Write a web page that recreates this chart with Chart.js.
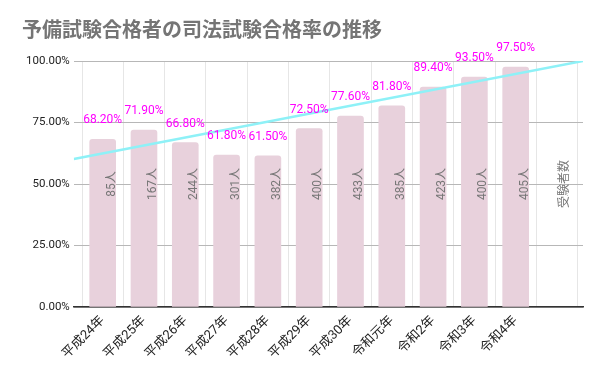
<!DOCTYPE html>
<html>
<head>
<meta charset="utf-8">
<script src="https://cdn.jsdelivr.net/npm/chart.js@4"></script>
<style>
  html, body { margin: 0; padding: 0; background: #fff; }
  #wrap { width: 600px; height: 371px; }
</style>
</head>
<body>
<div id="wrap"><canvas id="myChart"></canvas></div>
<script>
// data
let years = ["平成24年", "平成25年", "平成26年", "平成27年", "平成28年", "平成29年",
             "平成30年", "令和元年", "令和2年", "令和3年", "令和4年", ""];
let passRates = [68.2, 71.9, 66.8, 61.8, 61.5, 72.5, 77.6, 81.8, 89.4, 93.5, 97.5];
let examinees = [85, 167, 244, 301, 382, 400, 433, 385, 423, 400, 405];
let examineeName = "受験者数";
let trendEnds = [60.2, 100.0];   // trendline at the left and right edge of the plot
let yTicks = [0, 25, 50, 75, 100];

let xMin = -0.7, xMax = 11.63;
let font = "Roboto, 'Noto Sans CJK JP', sans-serif";

// labels drawn on the bars
const barLabels = {
  id: "barLabels",
  afterDatasetsDraw(chart) {
    const ctx = chart.ctx;
    const meta = chart.getDatasetMeta(1);
    const y = chart.scales.y, x = chart.scales.x;
    ctx.save();
    ctx.font = "12px " + font;
    // rates above bars
    ctx.fillStyle = "#ff00ff";
    ctx.textAlign = "center";
    ctx.textBaseline = "middle";
    meta.data.forEach((bar, i) => {
      ctx.fillText(passRates[i].toFixed(2) + "%", bar.x, bar.y - 19);
    });
    // examinees, rotated
    ctx.fillStyle = "#777";
    const mid = y.getPixelForValue(50);
    const put = (txt, px) => {
      ctx.save();
      ctx.translate(px, mid);
      ctx.rotate(-Math.PI / 2);
      ctx.fillText(txt, 0, 0);
      ctx.restore();
    };
    meta.data.forEach((bar, i) => put(examinees[i] + "人", bar.x + 9));
    put(examineeName, x.getPixelForValue(years.length - 1) + 8);
    ctx.restore();
  }
};

new Chart("myChart", {
  type: "bar",
  data: {
    datasets: [{
      type: "line",
      data: [{x: xMin, y: trendEnds[0]}, {x: xMax, y: trendEnds[1]}],
      borderColor: "#8ef1f7",
      borderWidth: 2.5,
      pointRadius: 0,
      order: 0
    }, {
      data: passRates.map((v, i) => ({x: i, y: v})),
      backgroundColor: "#e8d1dc",
      barThickness: 26,
      borderRadius: {topLeft: 3, topRight: 3},
      borderSkipped: "bottom",
      order: 1
    }]
  },
  options: {
    responsive: true,
    maintainAspectRatio: false,
    animation: false,
    layout: { padding: {left: 22, right: 17, top: 0, bottom: 4} },
    plugins: {
      legend: {display: false},
      tooltip: {enabled: false},
      title: {
        display: true,
        text: "予備試験合格者の司法試験合格率の推移",
        align: "start",
        color: "#757575",
        font: {family: "'Noto Sans CJK JP', sans-serif", size: 20, weight: "bold"},
        padding: {top: 17, bottom: 20}
      }
    },
    scales: {
      x: {
        type: "linear",
        offset: false,
        min: xMin,
        max: xMax,
        afterBuildTicks: s => { s.ticks = years.map((_, i) => ({value: i})); },
        afterFit: s => { s.height = 60; },
        ticks: {
          autoSkip: false,
          minRotation: 45,
          maxRotation: 45,
          padding: 6,
          color: "#222",
          font: {family: font, size: 13},
          callback: v => years[v]
        },
        grid: {color: "#e6e6e6", drawTicks: false},
        border: {color: "#333", width: 1.5}
      },
      y: {
        min: 0,
        max: 100,
        afterBuildTicks: s => { s.ticks = yTicks.map(v => ({value: v})); },
        ticks: {
          padding: 4,
          color: "#222",
          font: {family: font, size: 11.5},
          callback: v => v.toFixed(2) + "%"
        },
        grid: {color: "#b7b7b7", drawTicks: false},
        border: {display: false}
      }
    }
  },
  plugins: [barLabels]
});
</script>
</body>
</html>
